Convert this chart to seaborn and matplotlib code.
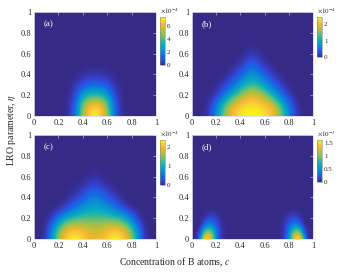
import numpy as np
import matplotlib
matplotlib.use('Agg')
import matplotlib.pyplot as plt
import seaborn as sns
from matplotlib.colors import LinearSegmentedColormap

# relative intensity, left half (c = 0 .. 0.5), rows are eta = 0, step, 2*step...
# panels are mirror symmetric about c = 0.5
a_c_step, a_eta_step = 0.05, 0.1
a_half = [
    [0, 0, 0, 0, 0, 0, .04, .25, .70, .93, 1.0],
    [0, 0, 0, 0, 0, 0, .04, .23, .65, .86, .93],
    [0, 0, 0, 0, 0, 0, .02, .12, .35, .47, .50],
    [0, 0, 0, 0, 0, 0, .01, .04, .10, .14, .15],
    [0, 0, 0, 0, 0, 0, 0, .01, .02, .03, .03],
]
a_peak = 7.4      # x1e-4

b_c_step, b_eta_step = 0.05, 0.1
b_half = [
    [0, 0, .01, .08, .28, .55, .78, .90, .96, .99, 1.0],
    [0, 0, 0, .05, .22, .47, .70, .85, .92, .95, .96],
    [0, 0, 0, .01, .04, .15, .32, .50, .66, .77, .82],
    [0, 0, 0, 0, .01, .04, .10, .20, .33, .45, .52],
    [0, 0, 0, 0, 0, 0, .02, .06, .14, .25, .32],
    [0, 0, 0, 0, 0, 0, 0, .01, .03, .09, .15],
    [0, 0, 0, 0, 0, 0, 0, 0, 0, .02, .04],
]
b_peak = 2.45     # x1e-4

c_c_step, c_eta_step = 0.05, 0.1
c_half = [
    [0, 0, .05, .35, .70, .90, .98, 1.0, .93, .85, .82],
    [0, 0, .03, .25, .55, .75, .85, .86, .82, .77, .75],
    [0, 0, 0, .05, .20, .38, .48, .52, .55, .55, .55],
    [0, 0, 0, 0, 0, .04, .12, .22, .30, .36, .40],
    [0, 0, 0, 0, 0, 0, .03, .07, .13, .20, .24],
    [0, 0, 0, 0, 0, 0, 0, .01, .03, .07, .10],
    [0, 0, 0, 0, 0, 0, 0, 0, 0, .01, .03],
]
c_peak = 2.35     # x1e-4

d_c_step, d_eta_step = 0.025, 0.05
d_half = [
    [0, 0, .08, .45, .92, 1.0, .88, .60, .30, .10, .03, .01, 0, 0, 0, 0, 0, 0, 0, 0, 0],
    [0, 0, .04, .25, .62, .80, .75, .52, .28, .10, .03, .01, 0, 0, 0, 0, 0, 0, 0, 0, 0],
    [0, 0, .01, .08, .30, .45, .45, .35, .20, .08, .03, .01, 0, 0, 0, 0, 0, 0, 0, 0, 0],
    [0, 0, 0, .02, .10, .20, .22, .19, .12, .06, .02, 0, 0, 0, 0, 0, 0, 0, 0, 0, 0],
    [0, 0, 0, 0, .03, .07, .09, .09, .06, .03, .01, 0, 0, 0, 0, 0, 0, 0, 0, 0, 0],
    [0, 0, 0, 0, .01, .02, .03, .03, .02, .01, 0, 0, 0, 0, 0, 0, 0, 0, 0, 0, 0],
]
d_peak = 1.62     # x1e-3

panel_labels = ['(a)', '(b)', '(c)', '(d)']
cbar_ticks = [[0, 2, 4, 6], [0, 1, 2], [0, 1, 2], [0, 0.5, 1, 1.5]]
cbar_tick_labels = [['0', '2', '4', '6'], ['0', '1', '2'], ['0', '1', '2'], ['0', '0.5', '1', '1.5']]
cbar_exp = [r'$\times10^{-4}$', r'$\times10^{-4}$', r'$\times10^{-4}$', r'$\times10^{-3}$']
axis_ticks = [0, 0.2, 0.4, 0.6, 0.8, 1]
axis_tick_labels = ['0', '0.2', '0.4', '0.6', '0.8', '1']

parula = LinearSegmentedColormap.from_list('parula', [
    (0.2081, 0.1663, 0.5292), (0.2116, 0.2384, 0.7777), (0.1408, 0.3467, 0.9000),
    (0.0584, 0.4258, 0.8780), (0.0783, 0.5072, 0.8297), (0.0329, 0.5852, 0.8236),
    (0.0140, 0.6387, 0.7821), (0.0689, 0.6837, 0.7197), (0.1906, 0.7176, 0.6222),
    (0.3528, 0.7453, 0.4970), (0.5093, 0.7535, 0.3868), (0.6488, 0.7491, 0.2924),
    (0.7771, 0.7403, 0.2061), (0.9000, 0.7264, 0.1706), (0.9931, 0.7424, 0.2392),
    (0.9600, 0.8663, 0.1667), (0.9763, 0.9831, 0.0538)], N=256)

sns.set_theme(style='white')
plt.rcParams['font.family'] = ['Liberation Serif', 'DejaVu Serif']
plt.rcParams['mathtext.fontset'] = 'stix'


def full_grid(half, c_step, eta_step, peak):
    half = np.array(half, dtype=float)
    grid = np.hstack([half, half[:, -2::-1]]) * peak
    n_rows = int(round(1 / eta_step)) + 1
    pad = np.zeros((n_rows - grid.shape[0], grid.shape[1]))
    return np.vstack([grid, pad])


W, H = 343, 272
fig = plt.figure(figsize=(W / 100, H / 100), dpi=100)

# pixel boxes: (left, top, right, bottom)
ax_boxes = [(34, 12, 156, 116), (192, 12, 313, 116), (34, 135, 156, 239), (192, 135, 313, 239)]
cb_boxes = [(160, 17, 165, 65), (317, 17, 322, 57), (160, 140, 165, 185), (317, 140, 322, 182)]

panels = [
    (a_half, a_c_step, a_eta_step, a_peak),
    (b_half, b_c_step, b_eta_step, b_peak),
    (c_half, c_c_step, c_eta_step, c_peak),
    (d_half, d_c_step, d_eta_step, d_peak),
]


def to_rect(box):
    l, t, r, b = box
    return [l / W, 1 - b / H, (r - l) / W, (b - t) / H]


for i, (half, cs, es, peak) in enumerate(panels):
    ax = fig.add_axes(to_rect(ax_boxes[i]))
    z = full_grid(half, cs, es, peak)
    im = ax.imshow(z, origin='lower', cmap=parula, vmin=0, vmax=peak,
                   extent=[-cs / 2, 1 + cs / 2, -es / 2, 1 + es / 2],
                   interpolation='bicubic', aspect='auto')
    ax.set_xlim(0, 1)
    ax.set_ylim(0, 1)
    ax.set_xticks(axis_ticks)
    ax.set_xticklabels(axis_tick_labels)
    ax.set_yticks(axis_ticks)
    ax.set_yticklabels(axis_tick_labels)
    ax.tick_params(direction='in', length=2, width=0.4, color='#d8d8e8',
                   labelsize=6, pad=2, top=True, right=True)
    for s in ax.spines.values():
        s.set_color('#d8d8e8')
        s.set_linewidth(0.6)
    ax.text(0.08, 0.86, panel_labels[i], transform=ax.transAxes, color='white',
            fontsize=6.5)

    cax = fig.add_axes(to_rect(cb_boxes[i]))
    cb = fig.colorbar(im, cax=cax, ticks=cbar_ticks[i])
    cb.ax.set_yticklabels(cbar_tick_labels[i])
    cb.ax.tick_params(length=0, labelsize=5, pad=1.5)
    cb.outline.set_linewidth(0.4)
    cb.outline.set_edgecolor('#888888')
    cax.text(0.0, 1.04, cbar_exp[i], transform=cax.transAxes, fontsize=5,
             ha='left', va='bottom')

fig.text(11 / W, 1 - 130 / H, r'LRO parameter, $\eta$', rotation=90,
         ha='center', va='center', fontsize=7)
fig.text(175 / W, 1 - 262 / H, r'Concentration of B atoms, $c$',
         ha='center', va='center', fontsize=7)

fig.savefig('out.png', dpi=100)
